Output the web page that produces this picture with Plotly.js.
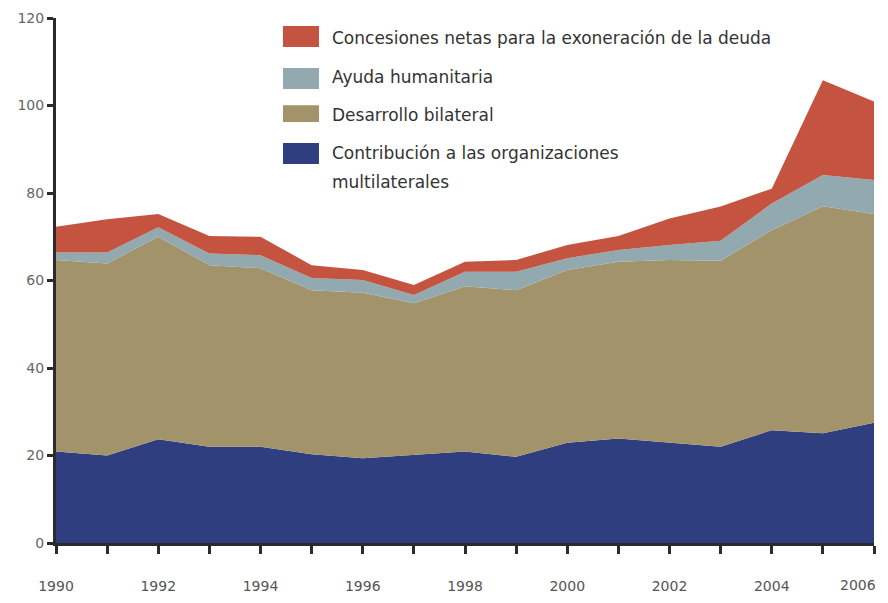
<!DOCTYPE html>
<html>
<head>
<meta charset="utf-8">
<script src="https://cdn.plot.ly/plotly-3.0.1.min.js"></script>
<style>
  html, body { margin: 0; padding: 0; background: #fff; }
  #chart { width: 888px; height: 603px; }
</style>
</head>
<body>
<div id="chart"></div>
<script>
// years on the x axis
var years = [1990, 1991, 1992, 1993, 1994, 1995, 1996, 1997, 1998,
             1999, 2000, 2001, 2002, 2003, 2004, 2005, 2006];

// layers, bottom to top (stacked)
var multilateral = [20.9, 20.0, 23.7, 22.0, 22.0, 20.3, 19.4, 20.1, 20.9,
                    19.7, 22.9, 23.9, 22.9, 22.0, 25.8, 25.1, 27.5];
var bilateral    = [43.8, 43.9, 46.3, 41.5, 40.8, 37.5, 37.8, 34.7, 37.8,
                    38.1, 39.5, 40.4, 41.8, 42.5, 45.7, 51.9, 47.7];
var humanitaria  = [1.7, 2.5, 2.2, 2.7, 3.0, 2.8, 2.9, 1.9, 3.3,
                    4.2, 2.7, 2.7, 3.4, 4.6, 6.1, 7.1, 7.8];
var deuda        = [5.9, 7.6, 3.0, 4.0, 4.2, 2.9, 2.3, 2.3, 2.3,
                    2.7, 3.0, 3.2, 6.1, 7.8, 3.4, 21.7, 17.9];

var yTicks = [0, 20, 40, 60, 80, 100, 120];
var lastYear = years[years.length - 1];
// even years labelled; the last one is drawn as an annotation, shifted left
var xLabels = years.map(function (y) {
  return (y % 2 === 0 && y !== lastYear) ? String(y) : '';
});

var names = ['Contribución a las organizaciones multilaterales',
             'Desarrollo bilateral',
             'Ayuda humanitaria',
             'Concesiones netas para la exoneración de la deuda'];
var legendLines = [['Contribución a las organizaciones', 'multilaterales'],
                   ['Desarrollo bilateral'],
                   ['Ayuda humanitaria'],
                   ['Concesiones netas para la exoneración de la deuda']];
var colors = ['#2F3E7E', '#A3936A', '#93A9B0', '#C4533F'];
var series = [multilateral, bilateral, humanitaria, deuda];

var data = series.map(function (vals, i) {
  return {
    x: years,
    y: vals,
    type: 'scatter',
    mode: 'lines',
    stackgroup: 'one',
    name: names[i],
    line: { width: 0, color: colors[i] },
    fillcolor: colors[i],
    showlegend: false
  };
});

// hand made legend, big swatches like the original
var legendY = [[0.985, 0.945], [0.905, 0.865], [0.834, 0.802], [0.762, 0.722]];
var textY = [[0.962], [0.888], [0.815], [0.742, 0.687]];
var order = [3, 2, 1, 0];
var shapes = [], annotations = [];
order.forEach(function (s, k) {
  shapes.push({
    type: 'rect', xref: 'paper', yref: 'paper',
    x0: 0.2775, x1: 0.3215, y0: legendY[k][1], y1: legendY[k][0],
    fillcolor: colors[s], line: { width: 0 }
  });
  legendLines[s].forEach(function (line, j) {
    annotations.push({
      xref: 'paper', yref: 'paper', x: 0.335, y: textY[k][j],
      xanchor: 'left', yanchor: 'middle', align: 'left',
      text: line, showarrow: false,
      font: { family: 'DejaVu Sans', size: 17, color: '#333' }
    });
  });
});

annotations.push({
  xref: 'x', yref: 'paper', x: lastYear, y: -0.08, xshift: -16,
  xanchor: 'center', yanchor: 'middle',
  text: String(lastYear), showarrow: false,
  font: { family: 'DejaVu Sans', size: 14, color: '#555' }
});

var layout = {
  width: 888,
  height: 603,
  margin: { l: 56, r: 14, t: 18, b: 60 },
  paper_bgcolor: '#fff',
  plot_bgcolor: '#fff',
  showlegend: false,
  xaxis: {
    range: [1990, 2006],
    tickvals: years,
    ticktext: xLabels,
    ticks: 'outside',
    ticklen: 8,
    tickwidth: 3,
    tickcolor: '#2b2b2b',
    showline: true,
    linecolor: '#2b2b2b',
    linewidth: 3,
    showgrid: false,
    zeroline: false,
    ticklabelstandoff: 20,
    tickfont: { family: 'DejaVu Sans', size: 14, color: '#555' }
  },
  yaxis: {
    range: [0, 120],
    tickvals: yTicks,
    ticks: 'outside',
    ticklen: 6,
    tickwidth: 3,
    tickcolor: '#2b2b2b',
    showline: true,
    linecolor: '#2b2b2b',
    linewidth: 3,
    showgrid: false,
    zeroline: false,
    tickfont: { family: 'DejaVu Sans', size: 14, color: '#666' }
  },
  shapes: shapes,
  annotations: annotations
};

Plotly.newPlot('chart', data, layout, { displayModeBar: false, staticPlot: true });
</script>
</body>
</html>
